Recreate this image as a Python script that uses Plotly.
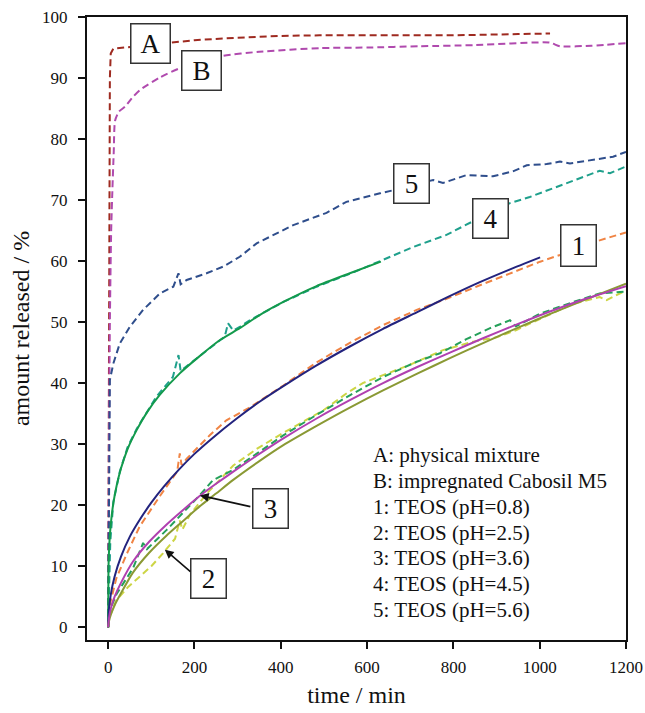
import plotly.graph_objects as go

# ---------------- data ----------------
# A: physical mixture
a_t = [0, 1, 2, 3, 4, 6, 12, 39, 150, 200, 300, 400, 490, 600, 800, 950, 1024]
a_y = [0, 20, 50, 75, 90, 94.0, 94.8, 95.0, 95.9, 96.2, 96.6, 96.9, 97.0, 97.0, 97.0, 97.2, 97.3]

# B: impregnated Cabosil M5
b_t = [0, 2, 4, 7, 10, 13, 16, 25, 39, 55, 73, 120, 166, 264, 350, 491, 600, 722, 850, 1023, 1047, 1120, 1200]
b_y = [0, 30, 50, 65, 72, 78, 83, 84.5, 85.3, 86.7, 88.0, 90.1, 91.6, 93.6, 94.3, 94.9, 95.0, 95.2, 95.4, 95.8, 95.2, 95.3, 95.7]

# 5: TEOS pH=5.6 (measured)
c5_t = [0, 1, 2, 4, 12, 27, 50, 81, 120, 151, 163, 168, 182, 228, 267, 305, 344, 429, 506, 552,
        630, 660, 753, 776, 831, 892, 938, 970, 1016, 1047, 1070, 1124, 1170, 1200]
c5_y = [0, 15, 30, 40.5, 43.2, 46.5, 49.2, 52.0, 54.7, 55.8, 58.0, 56.2, 56.9, 58.0, 59.1, 60.7, 62.9, 65.9, 67.9, 69.7,
        71.1, 71.6, 73.3, 72.8, 74.1, 73.9, 74.7, 75.7, 75.9, 76.3, 76.0, 76.6, 77.1, 77.9]

# 4: TEOS pH=4.5 (measured) and fit
c4_t = [0, 2, 5, 12, 27, 45, 66, 112, 150, 163, 168, 175, 236, 270, 278, 290, 305, 328, 406, 483, 560, 622,
        683, 707, 784, 842, 900, 931, 977, 1031, 1093, 1139, 1163, 1200]
c4_y = [0, 8, 14, 20.5, 25.5, 29.5, 32.5, 37.8, 41.0, 44.6, 42.0, 42.4, 45.7, 47.6, 49.8, 48.6, 49.2, 50.3, 53.3, 55.8, 57.9, 59.7,
        61.5, 62.3, 64.3, 66.4, 68.3, 69.5, 70.5, 71.9, 73.6, 74.8, 74.4, 75.5]
f4_t = [0, 1, 3, 6, 12, 20, 30, 45, 66, 90, 120, 166, 210, 260, 305, 352, 406, 483, 560, 632]
f4_y = [0, 10.3, 13.9, 16.8, 20.3, 23.3, 26.1, 29.2, 32.3, 35.2, 38.1, 41.6, 44.3, 47.1, 49.0, 51.2, 53.3, 55.9, 58.0, 59.9]

# 1: TEOS pH=0.8 (measured) and fit
c1_t = [0, 2, 5, 10, 19, 43, 73, 120, 160, 166, 170, 182, 236, 274, 328, 406, 483, 560, 637, 715, 784,
        860, 930, 1001, 1047, 1139, 1200]
c1_y = [0, 2.5, 4, 5.5, 8, 12, 16.5, 21.5, 25.5, 28.5, 26.6, 27.6, 31.5, 33.9, 36.0, 39.6, 43.4, 46.6, 49.5, 52.0, 53.8,
        56.0, 57.9, 59.9, 61.0, 63.4, 64.7]
f1_t = [0, 2, 6, 15, 30, 50, 75, 100, 130, 165, 200, 240, 298, 350, 406, 483, 560, 637, 715, 784, 860, 930, 1001]
f1_y = [0, 3.0, 5.3, 8.3, 11.6, 14.8, 17.8, 20.4, 23.1, 25.9, 28.4, 30.9, 34.2, 36.9, 39.5, 42.9, 46.0, 48.9, 51.6,
        54.0, 56.5, 58.6, 60.6]

# 2: TEOS pH=2.5 (measured) and fit
c2_t = [0, 2, 8, 19, 45, 73, 100, 127, 155, 166, 172, 190, 230, 290, 344, 400, 444, 500, 552, 590, 637, 699,
        776, 846, 900, 946, 1000, 1078, 1139, 1155, 1200]
c2_y = [0, 1.5, 2.5, 4.4, 6.5, 8.2, 10.0, 12.1, 14.5, 17.5, 16.0, 18.5, 22.0, 26.5, 29.2, 31.6, 33.4, 35.6, 38.3, 40.0, 41.3, 43.0,
        45.4, 46.8, 47.5, 48.7, 50.5, 53.0, 54.1, 53.6, 55.2]
f2_t = [0, 2, 6, 15, 30, 57, 95, 135, 175, 212, 250, 289, 352, 405, 483, 560, 637, 715, 792, 870, 950, 1030, 1110, 1200]
f2_y = [0, 1.0, 2.0, 3.6, 5.6, 8.9, 12.2, 15.0, 17.5, 19.8, 21.9, 24.1, 27.3, 29.8, 33.0, 36.0, 38.8, 41.5, 44.1, 46.6,
        49.1, 51.5, 53.8, 56.3]

# 3: TEOS pH=3.6 (measured) and fit
c3_t = [0, 2, 8, 20, 58, 81, 90, 135, 212, 243, 290, 344, 405, 483, 560, 637, 715, 769, 830, 885, 931, 945,
        1001, 1078, 1139, 1200]
c3_y = [0, 2, 3.5, 5.5, 9.7, 13.8, 12.8, 15.9, 21.6, 24.1, 25.8, 28.4, 31.4, 34.8, 38.0, 41.0, 43.5, 44.9, 47.2, 49.0, 50.3, 49.3,
        51.4, 53.3, 54.7, 55.0]
f3_t = [0, 2, 6, 15, 30, 58, 95, 135, 175, 212, 250, 290, 344, 405, 483, 560, 637, 715, 792, 870, 950, 1030, 1110, 1200]
f3_y = [0, 1.5, 3.0, 5.0, 7.3, 10.8, 14.0, 16.8, 19.3, 21.5, 23.5, 25.5, 28.1, 30.9, 34.2, 37.2, 40.0, 42.6, 45.0, 47.4,
        49.7, 51.9, 53.9, 55.9]

x_ticks = [0, 200, 400, 600, 800, 1000, 1200]
y_ticks = [0, 10, 20, 30, 40, 50, 60, 70, 80, 90, 100]

box_labels = ["A", "B", "5", "4", "1", "3", "2"]
legend_lines = ["A: physical mixture", "B: impregnated Cabosil M5", "1: TEOS (pH=0.8)",
                "2: TEOS (pH=2.5)", "3: TEOS (pH=3.6)", "4: TEOS (pH=4.5)", "5: TEOS (pH=5.6)"]

# ---------------- styling ----------------
SERIF = "Liberation Serif, Times New Roman, serif"
DASH = "7px,4px"

fig = go.Figure()


def add(x, y, color, dash=None, shape="linear", width=2.0):
    line = dict(color=color, width=width, dash=dash, shape=shape)
    if shape == "spline":
        line["smoothing"] = 0.6
    fig.add_trace(go.Scatter(x=x, y=y, mode="lines", line=line,
                             showlegend=False, hoverinfo="skip"))


add(a_t, a_y, "#9E2A20", DASH)
add(b_t, b_y, "#B04AAE", DASH, "spline")
add(c5_t, c5_y, "#2F4E8C", DASH)
add(c4_t, c4_y, "#1FA08C", DASH)
add(c1_t, c1_y, "#F08444", DASH)
add(c2_t, c2_y, "#CDD545", DASH)
add(c3_t, c3_y, "#25A05A", DASH)
add(f4_t, f4_y, "#139A4C", None, "spline")
add(f1_t, f1_y, "#23237E", None, "spline")
add(f2_t, f2_y, "#8A9934", None, "spline")
add(f3_t, f3_y, "#B040B0", None, "spline")

# label boxes (positions in data units, sizes in px)
box_pos = [(97.8, 95.7, 38, 38), (215.6, 91.3, 38, 38), (702.7, 72.7, 34, 38), (885.3, 66.9, 34, 38),
           (1090.8, 62.6, 34, 40), (376.6, 19.5, 34, 38), (231.8, 8.0, 34, 38)]
annotations = []
for lab, (bx, by, bw, bh) in zip(box_labels, box_pos):
    annotations.append(dict(x=bx, y=by, xref="x", yref="y", text=lab, showarrow=False,
                            font=dict(family=SERIF, size=27, color="#111"),
                            bordercolor="#333", borderwidth=1.5, borderpad=0, bgcolor="white",
                            width=bw, height=bh, align="center", valign="middle"))

# arrows from boxes 3 and 2
for tip, tail in [((212.5, 21.6), (333, 19.7)), ((131.4, 12.7), (194, 8.9))]:
    annotations.append(dict(x=tip[0], y=tip[1], ax=tail[0], ay=tail[1], xref="x", yref="y",
                            axref="x", ayref="y", text="", showarrow=True, arrowhead=2,
                            arrowsize=1.1, arrowwidth=1.6, arrowcolor="#111"))

# legend text block
for i, line in enumerate(legend_lines):
    annotations.append(dict(x=608, y=28.2 - i * 4.23, xref="x", yref="y", text=line, showarrow=False,
                            xanchor="left", yanchor="middle",
                            font=dict(family=SERIF, size=21, color="#111")))

axis_common = dict(showline=True, linewidth=2, linecolor="#111", mirror=True, showgrid=False,
                   zeroline=False, ticks="outside", ticklen=7, tickwidth=1.5, tickcolor="#111",
                   automargin=False)

fig.update_layout(
    width=645, height=713,
    margin=dict(l=87, r=19, t=17, b=73),
    paper_bgcolor="white", plot_bgcolor="white",
    font=dict(family=SERIF, color="#111"),
    xaxis=dict(range=[-49, 1200], tickvals=x_ticks, tickfont=dict(family=SERIF, size=17),
               ticklabelstandoff=4,
               title=dict(text="time / min", font=dict(family=SERIF, size=24), standoff=10),
               **axis_common),
    yaxis=dict(range=[-2.1, 100], tickvals=y_ticks, tickfont=dict(family=SERIF, size=17),
               ticklabelstandoff=7,
               title=dict(text="amount released / %", font=dict(family=SERIF, size=24), standoff=6),
               **axis_common),
    annotations=annotations,
)

fig.write_html("out.html")
